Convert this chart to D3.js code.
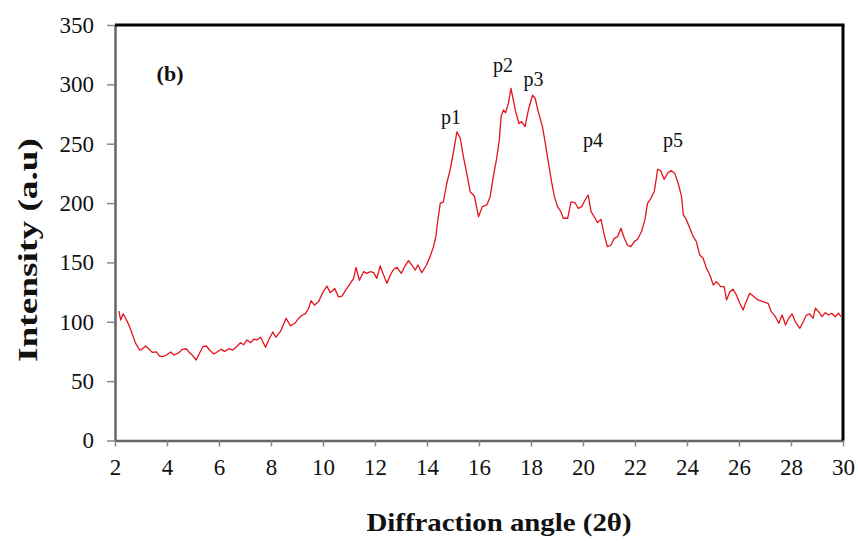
<!DOCTYPE html>
<html>
<head>
<meta charset="utf-8">
<script src="https://cdn.jsdelivr.net/npm/d3@7"></script>
<style>
  body { margin: 0; background: #fff; }
  text { font-family: "Liberation Serif", "Times New Roman", serif; fill: #111; }
</style>
</head>
<body>
<div id="svg-container"></div>
<script>
/** Diffraction angle (2θ) of each reading */
const angle = [
  2.15,2.22,2.31,2.41,2.54,2.66,2.79,2.95,3.05,3.18,
  3.31,3.43,3.59,3.72,3.82,3.97,4.14,4.27,4.46,4.59,
  4.74,4.84,4.97,5.12,5.25,5.38,5.51,5.64,5.80,5.93,
  6.08,6.22,6.38,6.53,6.70,6.83,6.95,7.08,7.21,7.34,
  7.46,7.60,7.79,7.91,8.07,8.19,8.36,8.58,8.75,8.94,
  9.07,9.19,9.32,9.45,9.54,9.67,9.83,9.99,10.15,10.28,
  10.45,10.60,10.73,10.88,11.05,11.18,11.27,11.40,11.56,11.69,
  11.82,11.95,12.07,12.20,12.33,12.46,12.59,12.71,12.84,13.01,
  13.14,13.29,13.44,13.55,13.65,13.80,13.96,14.12,14.25,14.34,
  14.40,14.51,14.63,14.76,14.89,15.02,15.15,15.28,15.40,15.53,
  15.66,15.82,15.98,16.13,16.30,16.43,16.55,16.68,16.78,16.85,
  16.94,17.02,17.13,17.23,17.32,17.41,17.54,17.64,17.77,17.90,
  18.06,18.16,18.28,18.44,18.54,18.67,18.79,18.90,19.02,19.15,
  19.24,19.41,19.54,19.69,19.82,19.95,20.08,20.20,20.31,20.43,
  20.56,20.69,20.82,20.94,21.08,21.20,21.33,21.46,21.59,21.71,
  21.84,21.97,22.10,22.25,22.38,22.48,22.61,22.74,22.83,22.87,
  22.99,23.12,23.27,23.40,23.53,23.66,23.79,23.86,23.98,24.11,
  24.24,24.36,24.49,24.62,24.75,24.88,25.01,25.13,25.30,25.43,
  25.52,25.65,25.77,25.90,26.03,26.16,26.24,26.41,26.58,26.73,
  26.92,27.12,27.24,27.40,27.53,27.66,27.79,27.91,28.04,28.17,
  28.34,28.47,28.59,28.72,28.85,28.94,29.06,29.19,29.32,29.44,
  29.57,29.70,29.83,29.92
];

/** Intensity (a.u) read at each angle */
const intensity = [
  109,101.5,106.6,103,97,90,82,76,77,79.6,
  76.8,74.3,74.6,71,70.6,71.8,74.6,72,74,76.8,
  77.3,74.6,72,67.8,73.5,79,79.6,76.2,72.9,74.6,
  76.8,75.1,77.3,76.2,79.6,82.4,80.7,84.7,82.4,85.3,
  84.7,87,78.5,84.7,91.4,87,91.7,103,96.5,99.2,
  103,105.5,106.6,111.4,117.8,114,117,124.5,130,124.5,
  128,121,121.7,126.8,132.4,136.6,145.9,135,142.2,140.8,
  142.2,141.4,136.6,147,139.4,132.4,139.4,144,146,140.8,
  146.4,151.5,147,143.6,147.9,141.4,147,154.9,163.3,171.7,
  183,199.8,201,216.7,227.9,243.3,260,254.6,239,225,
  209.6,206,188.5,197,198.4,205.4,222.2,237.7,253,272.8,
  278.4,276,284,296.7,286.8,277,267,268.6,264.4,278.4,
  291,288.3,277,264.4,251.7,234,218,205.4,197,192.8,
  187.2,187.2,201,200.3,195.6,197,202.6,206.8,192.8,188.5,
  183.5,186.3,173,163.3,164.7,170.3,171.7,178.8,170.3,164.7,
  163.3,167.5,169.5,176,185.8,199.8,204,209.6,222.2,228.5,
  227.3,220,225.6,227.3,225,216.7,205.4,190,185.8,178.8,
  171.7,167.5,156.3,153.5,145,139.4,131,133.8,129.6,129.6,
  118.4,125.4,127.4,122.6,115.6,110,115,124,121.1,118.4,
  117,115.6,108.5,104.3,98.7,105.7,97.3,103,106.6,100,
  94.5,100,105.7,106.6,103,111.4,108.5,104.3,107.7,105.7,
  107.2,104.3,107.2,104.3
];

/** Tick values */
const xTicks = d3.range(2, 31, 2);
const yTicks = d3.range(0, 351, 50);

/** Peak labels */
const peakNames = ["p1", "p2", "p3", "p4", "p5"];
const peakAngles = [14.92, 16.92, 18.1, 20.38, 23.46];
const peakLevels = [267, 310, 299, 247, 247];

const scan = d3.zip(angle, intensity);
if (angle.length !== intensity.length) console.error("length mismatch", angle.length, intensity.length);

function drawSvg() {
  const w = 858, h = 541;
  const margin = {top: 25, right: 15, bottom: 100.5, left: 115};
  const width = w - margin.left - margin.right;
  const height = h - margin.top - margin.bottom;

  const xScale = d3.scaleLinear().domain([2, 30]).range([0, width]);
  const yScale = d3.scaleLinear().domain([0, 350]).range([height, 0]);

  const svg = d3.select("#svg-container")
    .append("svg")
    .attr("width", w)
    .attr("height", h);

  const chart = svg.append("g")
    .attr("transform", "translate(" + margin.left + "," + margin.top + ")");

  /** Axes */
  const xAxis = d3.axisBottom(xScale).tickValues(xTicks).tickSize(6).tickPadding(12).tickSizeOuter(0);
  const yAxis = d3.axisLeft(yScale).tickValues(yTicks).tickSize(8).tickPadding(13).tickSizeOuter(0);

  const gx = chart.append("g")
    .attr("transform", "translate(0," + height + ")")
    .call(xAxis);
  const gy = chart.append("g").call(yAxis);

  [gx, gy].forEach(function(g) {
    g.select(".domain").attr("stroke", "#666").attr("stroke-width", 2.5);
    g.selectAll(".tick line").attr("stroke", "#888").attr("stroke-width", 1.5);
    g.selectAll(".tick text")
      .style("font-family", '"Liberation Serif", "Times New Roman", serif')
      .style("font-size", "23px")
      .attr("fill", "#111");
  });

  /** Top and right frame */
  chart.append("line")
    .attr("x1", xScale(2)).attr("x2", xScale(30) + 1.5)
    .attr("y1", yScale(350)).attr("y2", yScale(350))
    .attr("stroke", "#000").attr("stroke-width", 3);
  chart.append("line")
    .attr("x1", xScale(30)).attr("x2", xScale(30))
    .attr("y1", yScale(350)).attr("y2", yScale(0))
    .attr("stroke", "#000").attr("stroke-width", 3);

  /** The scan */
  const line = d3.line()
    .x((d) => xScale(d[0]))
    .y((d) => yScale(d[1]));

  chart.append("path")
    .datum(scan)
    .attr("fill", "none")
    .attr("stroke", "#e3141c")
    .attr("stroke-width", 1.3)
    .attr("stroke-linejoin", "round")
    .attr("d", line);

  /** Peak labels */
  chart.selectAll("text.peak")
    .data(peakNames)
    .enter()
    .append("text")
    .attr("class", "peak")
    .attr("x", (d, i) => xScale(peakAngles[i]))
    .attr("y", (d, i) => yScale(peakLevels[i]))
    .style("text-anchor", "middle")
    .style("font-size", "20px")
    .text((d) => d);

  /** Panel tag */
  chart.append("text")
    .attr("x", xScale(3.6))
    .attr("y", yScale(300))
    .attr("dy", "-0.15em")
    .style("font-size", "22px")
    .style("font-weight", "bold")
    .text("(b)");

  /** Axis titles */
  svg.append("text")
    .attr("x", 499)
    .attr("y", 531)
    .style("text-anchor", "middle")
    .style("font-size", "25px")
    .style("font-weight", "bold")
    .attr("textLength", 265)
    .attr("lengthAdjust", "spacingAndGlyphs")
    .text("Diffraction angle  (2θ)");

  svg.append("text")
    .attr("transform", "translate(37,250) rotate(-90)")
    .style("text-anchor", "middle")
    .style("font-size", "27px")
    .style("font-weight", "bold")
    .attr("textLength", 224)
    .attr("lengthAdjust", "spacingAndGlyphs")
    .text("Intensity (a.u)");
}

drawSvg();
</script>
</body>
</html>
